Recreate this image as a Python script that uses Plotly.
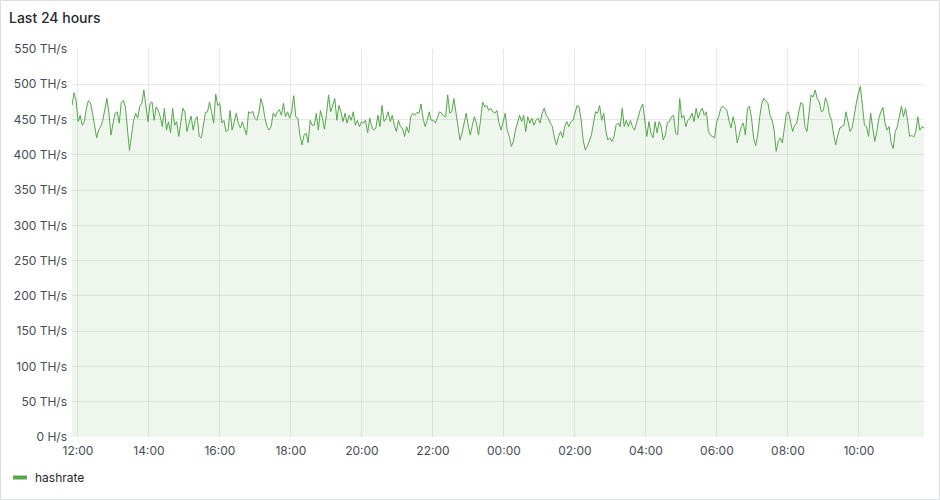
import plotly.graph_objects as go
import pandas as pd

# hashrate in TH/s, 11:50 -> 11:50 next day
hashrate = [
    470, 488, 477, 447, 456, 442, 447, 466, 477, 474, 459, 440, 424, 436, 440,
    449, 463, 480, 459, 428, 445, 459, 461, 445, 474, 477, 468, 435, 406, 428,
    449, 459, 452, 469, 473, 492, 470, 447, 473, 475, 449, 468, 463, 454, 440,
    466, 435, 447, 431, 466, 442, 447, 426, 445, 466, 461, 433, 445, 455,
    435, 449, 454, 426, 424, 445, 460, 461, 475, 461, 445, 486, 470, 473, 445,
    449, 433, 435, 463, 435, 447, 459, 445, 438, 447, 438, 428, 461, 459, 462,
    452, 449, 459, 480, 470, 452, 440, 435, 440, 459, 454, 461, 464, 456, 473,
    454, 461, 452, 461, 484, 454, 452, 428, 414, 428, 431, 417, 449, 442,
    442, 459, 435, 463, 452, 436, 459, 485, 461, 470, 480, 449, 470, 461, 447,
    459, 445, 456, 449, 461, 442, 449, 440, 447, 445, 449, 431, 452, 440, 435,
    438, 456, 440, 470, 447, 452, 461, 447, 456, 442, 433, 449, 440, 438, 426,
    440, 431, 454, 459, 456, 460, 459, 472, 452, 440, 449, 461, 449,
    449, 445, 454, 461, 459, 455, 454, 485, 459, 461, 480, 459, 435, 421, 431,
    447, 459, 442, 428, 442, 454, 445, 428, 449, 475, 468, 470, 463, 466, 461,
    459, 463, 445, 435, 447, 459, 435, 426, 412, 419, 435, 445, 456, 447, 456,
    433, 454, 445, 452, 442, 449, 452, 445, 459, 466, 456, 452, 445,
    440, 424, 414, 426, 433, 424, 440, 447, 440, 447, 449, 459, 470, 468, 449,
    421, 407, 412, 421, 428, 445, 461, 459, 470, 449, 459, 435, 421, 424, 419,
    426, 442, 445, 440, 466, 440, 449, 440, 449, 440, 435, 445, 456, 466, 472,
    449, 426, 447, 431, 424, 447, 431, 447, 440, 421, 428, 446, 447, 454,
    456, 431, 428, 480, 452, 456, 440, 449, 452, 459, 447, 466, 452, 461, 466,
    456, 461, 433, 428, 426, 424, 447, 454, 466, 469, 466, 463, 449, 438, 454,
    442, 417, 431, 440, 445, 428, 466, 469, 452, 424, 413, 428, 454, 473, 480,
    477, 473, 456, 449, 435, 405, 419, 424, 417, 440, 459, 461, 449,
    433, 442, 445, 461, 474, 472, 440, 433, 459, 485, 482, 492, 480, 475, 461,
    463, 481, 473, 456, 449, 428, 414, 428, 438, 440, 442, 461, 447, 433, 438,
    459, 473, 487, 497, 470, 442, 440, 426, 459, 442, 419, 433, 452, 461, 467,
    445, 435, 440, 417, 409, 433, 440, 454, 469, 454, 466, 449, 426, 428, 425,
    433, 454, 435, 440, 438,
]
start_time = "2024-03-01 11:50"
end_time = "2024-03-02 11:50"

y_tickvals = [0, 50, 100, 150, 200, 250, 300, 350, 400, 450, 500, 550]
y_ticktext = ["0 H/s", "50 TH/s", "100 TH/s", "150 TH/s", "200 TH/s", "250 TH/s",
              "300 TH/s", "350 TH/s", "400 TH/s", "450 TH/s", "500 TH/s", "550 TH/s"]

times = pd.date_range(start_time, end_time, periods=len(hashrate))

TEXT = "#24292e"
TICK = "#464c54"
GREEN = "#56A64B"
GRID = "rgba(0,0,0,0.09)"

W, H = 940, 500
L, R, T, B = 72, 16, 49, 63


def px_x(x):
    return (x - L) / (W - L - R)


def px_y(y):
    return (H - B - y) / (H - T - B)


fig = go.Figure()

fig.add_trace(go.Scatter(
    x=times,
    y=hashrate,
    name="hashrate",
    mode="lines",
    line=dict(color=GREEN, width=1),
    fill="tozeroy",
    fillcolor="rgba(86,166,75,0.1)",
    hovertemplate="%{x|%H:%M}<br>%{y} TH/s<extra></extra>",
    showlegend=False,
))

fig.update_layout(
    width=W, height=H,
    margin=dict(l=L, r=R, t=T, b=B),
    paper_bgcolor="white",
    plot_bgcolor="white",
    font=dict(family="Inter, Roboto, sans-serif", size=12, color=TICK),
    xaxis=dict(
        range=[start_time, end_time],
        tick0="2024-03-01 12:00",
        dtick=2 * 3600 * 1000,
        tickformat="%H:%M",
        showgrid=True, gridcolor=GRID, gridwidth=1,
        zeroline=False, showline=False,
        ticks="", ticklabelstandoff=5,
    ),
    yaxis=dict(
        range=[0, 550],
        tickvals=y_tickvals,
        ticktext=y_ticktext,
        showgrid=True, gridcolor=GRID, gridwidth=1,
        zeroline=False, showline=False,
        ticks="", ticklabelstandoff=4,
    ),
    shapes=[
        # panel border
        dict(type="rect", xref="paper", yref="paper",
             x0=px_x(0.5), x1=px_x(W - 0.5), y0=px_y(H - 0.5), y1=px_y(0.5),
             line=dict(color="#dcdee3", width=1), layer="below"),
        # legend swatch
        dict(type="line", xref="paper", yref="paper",
             x0=px_x(13), x1=px_x(27), y0=px_y(477.5), y1=px_y(477.5),
             line=dict(color=GREEN, width=4)),
    ],
    annotations=[
        dict(text="Last 24 hours", xref="paper", yref="paper",
             x=px_x(7), y=px_y(17), xanchor="left", yanchor="middle",
             showarrow=False, font=dict(size=14, color=TEXT, weight=500)),
        dict(text="hashrate", xref="paper", yref="paper",
             x=px_x(33), y=px_y(477), xanchor="left", yanchor="middle",
             showarrow=False, font=dict(size=12, color=TEXT)),
    ],
)

# the page's default body margin would push the panel 8px off
fig.write_html("out.html",
               config={"displayModeBar": False},
               post_script="document.body.style.margin='0';document.body.style.overflow='hidden';")
